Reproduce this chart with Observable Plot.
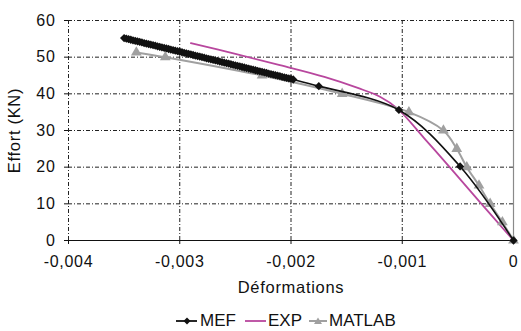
<!DOCTYPE html>
<html>
<head>
<meta charset="utf-8">
<script src="https://cdn.jsdelivr.net/npm/d3@7"></script>
<script src="https://cdn.jsdelivr.net/npm/@observablehq/plot@0.6"></script>
<style>
  html, body { margin: 0; padding: 0; background: #fff; }
  #chart { width: 521px; font-family: "Liberation Sans", Arial, sans-serif; position: relative; }
  .legend { position: relative; height: 31px; font-size: 17px; color: #111; }
  .legend .sw { position: absolute; top: 16px; line-height: 0; }
  .legend .sw svg { display: block; }
  .legend .lb { position: absolute; top: 12px; line-height: 17px; white-space: nowrap; }
</style>
</head>
<body>
<div id="chart"></div>
<script>
// Series data (x = déformation, y = effort kN)
const mefX = [-0.00350,-0.00348,-0.00346,-0.00344,-0.00342,-0.00340,-0.00338,-0.00336,-0.00334,-0.00332,
  -0.00330,-0.00328,-0.00326,-0.00324,-0.00322,-0.00320,-0.00318,-0.00316,-0.00314,-0.00312,
  -0.00310,-0.00308,-0.00306,-0.00304,-0.00302,-0.00300,-0.00298,-0.00296,-0.00294,-0.00292,
  -0.00290,-0.00288,-0.00286,-0.00284,-0.00282,-0.00280,-0.00278,-0.00276,-0.00274,-0.00272,
  -0.00270,-0.00268,-0.00266,-0.00264,-0.00262,-0.00260,-0.00258,-0.00256,-0.00254,-0.00252,
  -0.00250,-0.00248,-0.00246,-0.00244,-0.00242,-0.00240,-0.00238,-0.00236,-0.00234,-0.00232,
  -0.00230,-0.00228,-0.00226,-0.00224,-0.00222,-0.00220,-0.00218,-0.00216,-0.00214,-0.00212,
  -0.00210,-0.00208,-0.00206,-0.00204,-0.00202,-0.00200,-0.00198,
  -0.00175,-0.00103,-0.00048,0];
const mefY = [55.20,55.05,54.90,54.75,54.60,54.46,54.31,54.16,54.01,53.86,
  53.71,53.56,53.42,53.27,53.12,52.97,52.82,52.67,52.52,52.38,
  52.23,52.08,51.93,51.78,51.63,51.48,51.34,51.19,51.04,50.89,
  50.74,50.59,50.44,50.30,50.15,50.00,49.85,49.70,49.55,49.40,
  49.26,49.11,48.96,48.81,48.66,48.51,48.36,48.22,48.07,47.92,
  47.77,47.62,47.47,47.32,47.18,47.03,46.88,46.73,46.58,46.43,
  46.28,46.14,45.99,45.84,45.69,45.54,45.39,45.24,45.10,44.95,
  44.80,44.65,44.50,44.35,44.20,44.06,43.91,
  42.1,35.6,20.2,0];
const expX = [-0.0029,-0.0025,-0.0021,-0.0017,-0.0014,-0.0012,-0.00104,-0.0008,-0.00057,-0.0003,0];
const expY = [53.8,50.9,47.8,44.6,41.6,39.2,35.9,27.8,19.9,10.4,0];
const matX = [-0.00339,-0.00313,-0.00226,-0.00154,-0.00094,-0.00063,-0.00051,-0.00042,-0.00031,-0.00021,-0.0001,0];
const matY = [51.3,50.0,45.0,40.0,35.0,30.0,25.0,20.0,15.0,10.0,5.0,0];
const xTicks = [-0.004,-0.003,-0.002,-0.001,0];
const yTicks = [0,10,20,30,40,50,60];
const seriesNames = ["MEF","EXP","MATLAB"];
const seriesColors = ["#111111","#b8479e","#a0a0a0"];

const mef = mefX.map((x,i)=>({x, y: mefY[i]}));
const exp = expX.map((x,i)=>({x, y: expY[i]}));
const mat = matX.map((x,i)=>({x, y: matY[i]}));

const fmt = d => d === 0 ? "0" : String(d).replace(".", ",");
const dash = "4,2,1,2";

const plot = Plot.plot({
  width: 521,
  height: 300,
  marginLeft: 68,
  marginRight: 8,
  marginTop: 20,
  marginBottom: 60,
  style: {fontFamily: "'Liberation Sans', Arial, sans-serif", fontSize: "16px", color: "#111", background: "#fff", letterSpacing: "0.7px"},
  x: {domain: [-0.004, 0]},
  y: {domain: [0, 60]},
  marks: [
    Plot.ruleY(yTicks.filter(d => d > 0), {stroke: "#222", strokeWidth: 1, strokeDasharray: dash}),
    Plot.ruleX(xTicks.filter(d => d < 0), {y1: 0, y2: 60, stroke: "#222", strokeWidth: 1, strokeDasharray: dash}),
    Plot.ruleX([0], {y1: 0, y2: 60, stroke: "#8a8a8a", strokeWidth: 1.2}),
    Plot.ruleY([0], {stroke: "#111", strokeWidth: 1.2}),
    Plot.axisX({ticks: xTicks, tickFormat: fmt, tickSize: 4, tickPadding: 11, label: null, fontSize: 16}),
    Plot.axisY({ticks: yTicks, tickFormat: fmt, tickSize: 4, tickPadding: 9, label: null, fontSize: 16}),
    Plot.text(["Déformations"], {frameAnchor: "bottom", dy: 47, lineAnchor: "middle", fontSize: 16.5}),
    Plot.text(["Effort (KN)"], {frameAnchor: "left", dx: -54, rotate: -90, textAnchor: "middle", lineAnchor: "middle", fontSize: 16.5}),
    Plot.line(exp, {x: "x", y: "y", stroke: seriesColors[1], strokeWidth: 1.8, curve: "catmull-rom"}),
    Plot.line(mat, {x: "x", y: "y", stroke: seriesColors[2], strokeWidth: 2, curve: "catmull-rom"}),
    Plot.dot(mat, {x: "x", y: "y", symbol: "triangle", fill: seriesColors[2], r: 4}),
    Plot.line(mef, {x: "x", y: "y", stroke: seriesColors[0], strokeWidth: 1.6, curve: "catmull-rom"}),
    Plot.dot(mef, {x: "x", y: "y", symbol: "square", rotate: 45, fill: seriesColors[0], r: 3.3})
  ]
});

const chart = document.getElementById("chart");
chart.appendChild(plot);

const legend = document.createElement("div");
legend.className = "legend";
const swatch = (i) => {
  const c = seriesColors[i];
  let marker = "";
  if (i === 0) marker = `<path d="M11,1.5 L14.5,5 L11,8.5 L7.5,5 Z" fill="${c}"/>`;
  if (i === 2) marker = `<path d="M9,1.5 L13,8 L5,8 Z" fill="${c}"/>`;
  const w = i === 2 ? 18 : 21;
  return `<svg width="${w}" height="10"><line x1="0" x2="${w}" y1="5" y2="5" stroke="${c}" stroke-width="${i===2?2:1.8}"/>${marker}</svg>`;
};
const swX = [176, 245, 309];
const lbX = [200, 268, 329];
legend.innerHTML = seriesNames.map((n,i)=>
  `<div class="sw" style="left:${swX[i]}px">${swatch(i)}</div><div class="lb" style="left:${lbX[i]}px">${n}</div>`).join("");
chart.appendChild(legend);
</script>
</body>
</html>
